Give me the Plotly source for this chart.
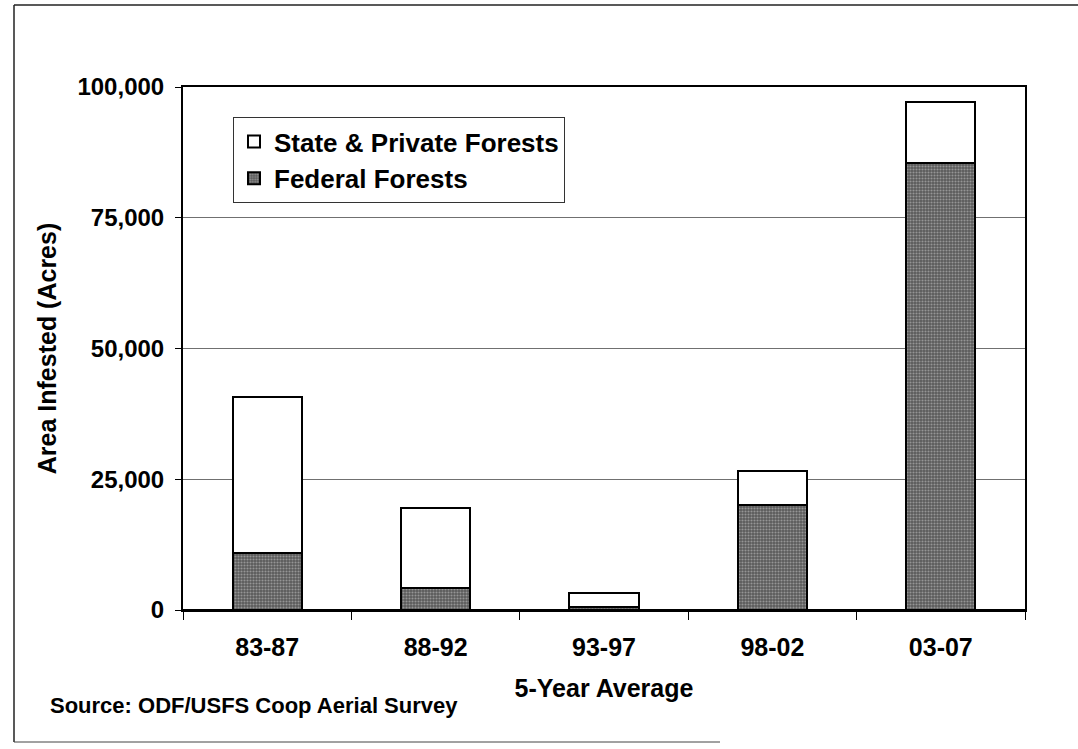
import plotly.graph_objects as go

categories = ["83-87", "88-92", "93-97", "98-02", "03-07"]
federal = [10900, 4150, 600, 20100, 85500]
state_private = [29800, 15350, 2600, 6550, 11600]
y_ticks = [0, 25000, 50000, 75000, 100000]
y_tick_labels = ["0", "25,000", "50,000", "75,000", "100,000"]

W, H = 1078, 749
ML, MR, MT, MB = 183, 53, 87, 139
PW, PH = W - ML - MR, H - MT - MB


def px_x(x):
    return (x - ML) / PW


def px_y(y):
    return (H - MB - y) / PH


FONT = "Liberation Sans, Arial, sans-serif"

fig = go.Figure()
fig.add_trace(go.Bar(
    x=categories, y=federal, name="Federal Forests",
    marker=dict(color="#5a5a5a", line=dict(color="black", width=2),
                pattern=dict(shape=".", fgcolor="#d0d0d0", size=3, solidity=0.4,
                             fillmode="overlay")),
))
fig.add_trace(go.Bar(
    x=categories, y=state_private, name="State & Private Forests",
    marker=dict(color="white", line=dict(color="black", width=2)),
))

fig.update_layout(
    width=W, height=H,
    margin=dict(l=ML, r=MR, t=MT, b=MB),
    paper_bgcolor="white", plot_bgcolor="white",
    barmode="stack", bargap=0.59,
    font=dict(family=FONT, color="black"),
    showlegend=True,
    legend=dict(x=px_x(233), y=px_y(117), xanchor="left", yanchor="top",
                traceorder="reversed", bordercolor="#333", borderwidth=1,
                bgcolor="white", font=dict(size=26, family=FONT, weight="bold"),
                itemwidth=30, tracegroupgap=0),
    xaxis=dict(
        type="category",
        showline=True, linecolor="black", linewidth=1.5, mirror=True,
        ticks="outside", ticklen=8, tickcolor="black", tickson="boundaries",
        tickfont=dict(size=25, family=FONT, weight="bold"),
        ticklabelstandoff=14,
        title=dict(text="5-Year Average", font=dict(size=25, family=FONT, weight="bold"),
                   standoff=20),
        showgrid=False,
    ),
    yaxis=dict(
        range=[0, 100000], tickvals=y_ticks, ticktext=y_tick_labels,
        showline=True, linecolor="black", linewidth=2, mirror=True,
        ticks="outside", ticklen=6, tickcolor="black",
        tickfont=dict(size=24, family=FONT, weight="bold"),
        ticklabelstandoff=6,
        showgrid=True, gridcolor="#707070", gridwidth=1,
        zeroline=True, zerolinecolor="black", zerolinewidth=1.5,
        title=dict(text="Area Infested (Acres)", font=dict(size=25, family=FONT, weight="bold"),
                   standoff=14),
    ),
    annotations=[dict(
        text="Source: ODF/USFS Coop Aerial Survey", xref="paper", yref="paper",
        x=px_x(48), y=px_y(705), xanchor="left", yanchor="middle", showarrow=False,
        font=dict(size=22, family=FONT, weight="bold"),
    )],
    shapes=[
        dict(type="line", xref="paper", yref="paper", x0=px_x(14), x1=px_x(1078),
             y0=px_y(5), y1=px_y(5), line=dict(color="#222", width=1.5)),
        dict(type="line", xref="paper", yref="paper", x0=px_x(14), x1=px_x(14),
             y0=px_y(5), y1=px_y(742), line=dict(color="#222", width=1.5)),
        dict(type="line", xref="paper", yref="paper", x0=px_x(14), x1=px_x(720),
             y0=px_y(742), y1=px_y(742), line=dict(color="#444", width=1)),
    ],
)

fig.write_html("out.html", config={"displayModeBar": False},
               post_script="document.body.style.margin='0';")
